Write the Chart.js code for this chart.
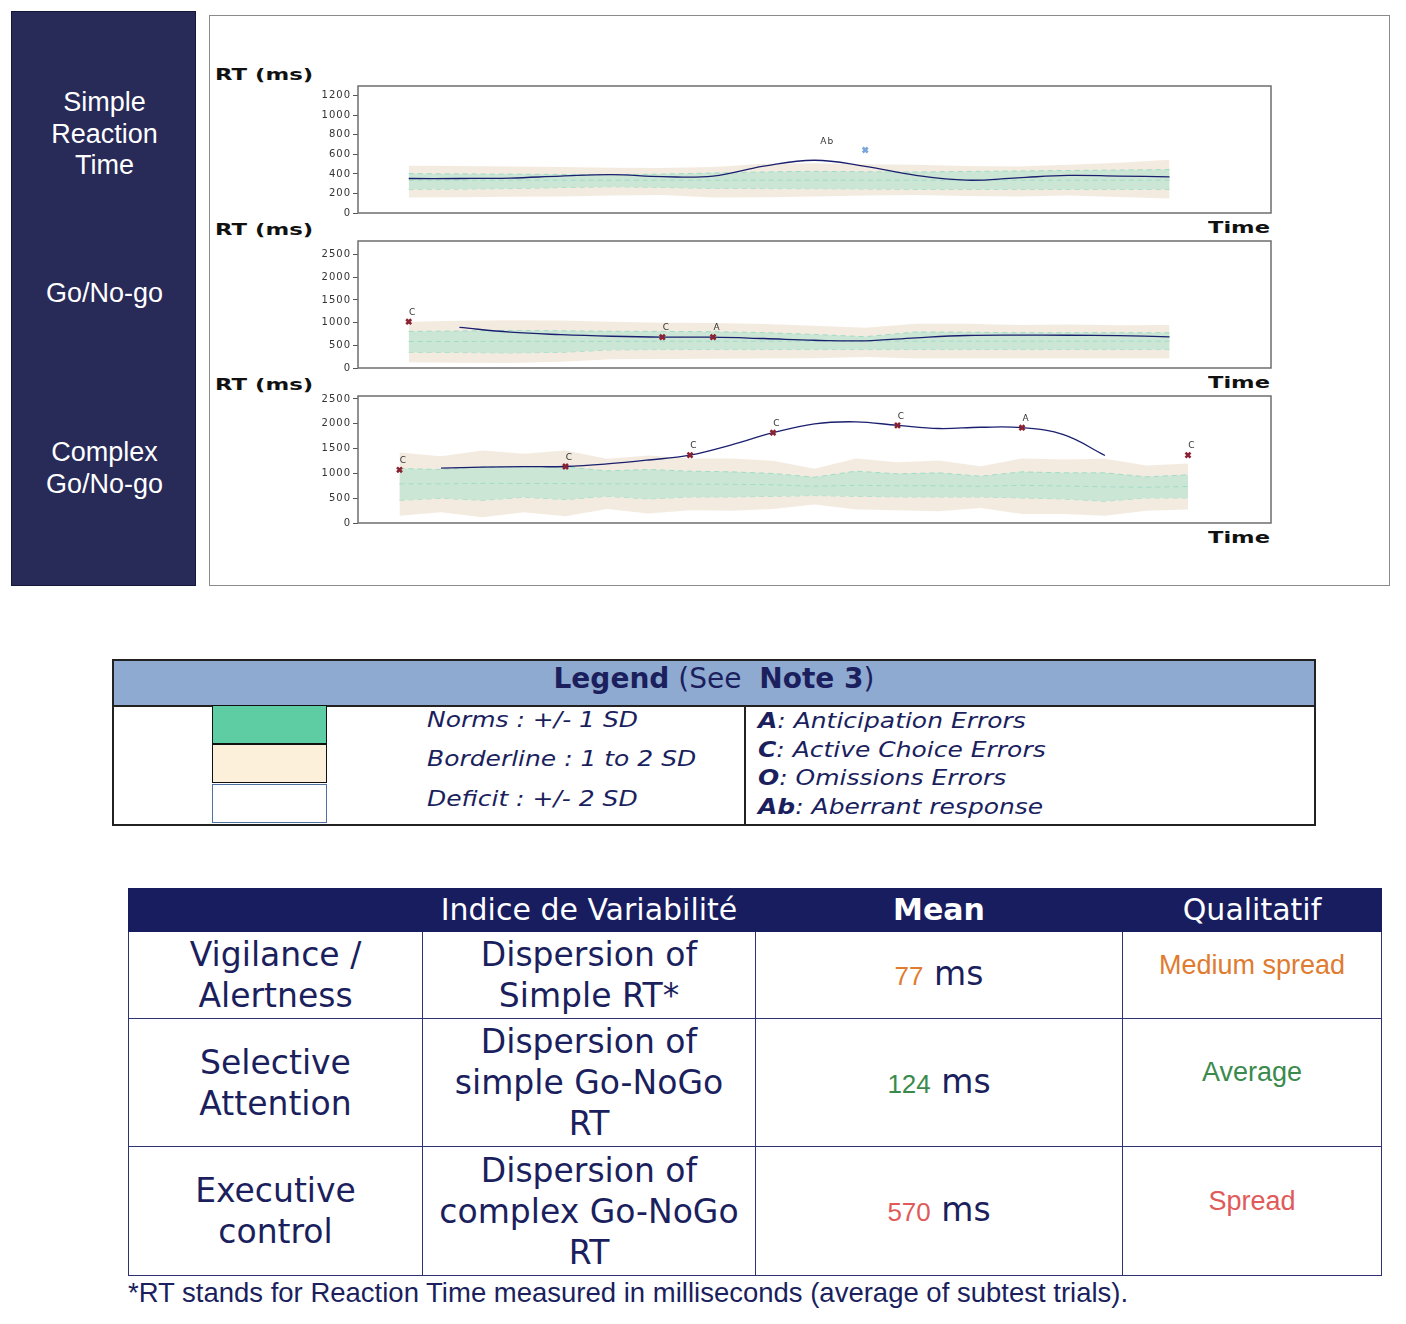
<!DOCTYPE html>
<html lang="en">
<head>
<meta charset="UTF-8"/>
<title>Reaction Time Profile</title>
<script src="https://cdn.jsdelivr.net/npm/chart.js"></script>
<style>
    body { margin: 0; width: 1406px; height: 1324px; position: relative; background: #fff; font-family: 'DejaVu Sans', sans-serif; color: #1b1f5e; overflow: hidden; }
    .side { position: absolute; left: 11px; top: 11px; width: 183px; height: 573px; background: #282a58; border: 1px solid #15173a; }
    .side div { position: absolute; left: 0; width: 185px; text-align: center; color: #fff; font-family: 'Liberation Sans', Arial, sans-serif; font-size: 27px; line-height: 31.5px; }
    .panel { position: absolute; left: 209px; top: 15px; width: 1179px; height: 569px; border: 1px solid #8a8a8a; }
    canvas { position: absolute; left: 300px; }
    .rt, .time { position: absolute; font-weight: bold; color: #111; transform-origin: left center; white-space: nowrap; line-height: 16px; }
    .rt { font-size: 15px; transform: scaleX(1.52); left: 215px; }
    .time { font-size: 16px; transform: scaleX(1.41); left: 1208px; }

    .legend { position: absolute; left: 112px; top: 659px; width: 1200px; height: 163px; border: 2px solid #222; }
    .lhead { position: absolute; left: 0; top: 0; width: 1200px; height: 44px; background: #8faad0; border-bottom: 2px solid #222; text-align: center; font-size: 28px; line-height: 36px; }
    .ldiv { position: absolute; left: 630px; top: 46px; width: 2px; height: 117px; background: #222; }
    .sw { position: absolute; left: 98px; width: 113px; }
    .ltxt { position: absolute; font-style: italic; font-size: 22px; white-space: nowrap; transform-origin: left center; transform: scaleX(1.135); }
    .codes { position: absolute; left: 644px; top: 46px; font-style: italic; font-size: 22px; line-height: 28.5px; white-space: nowrap; transform-origin: left top; transform: scaleX(1.135); }

    table { position: absolute; left: 128px; top: 888px; border-collapse: collapse; table-layout: fixed; width: 1253px; }
    th { background: #181d60; color: #fff; font-weight: normal; font-size: 30px; height: 42px; padding: 0; line-height: 42px; border: 1.5px solid #181d60; }
    td { border: 1.5px solid #2e3272; text-align: center; vertical-align: middle; font-size: 33px; line-height: 41px; padding: 0; }
    .num { font-family: 'Liberation Sans', Arial, sans-serif; font-size: 26px; }
    .qual { font-family: 'Liberation Sans', Arial, sans-serif; font-size: 27px; padding-bottom: 20px; }
    .foot { position: absolute; left: 128px; top: 1277px; font-family: 'Liberation Sans', Arial, sans-serif; font-size: 27.5px; white-space: nowrap; }
</style>
</head>
<body>
    <div class="side">
        <div style="top:75px">Simple<br>Reaction<br>Time</div>
        <div style="top:266px">Go/No-go</div>
        <div style="top:425px">Complex<br>Go/No-go</div>
    </div>
    <div class="panel"></div>

    <div class="rt" style="top:67px">RT (ms)</div>
    <div class="time" style="top:220px">Time</div>
    <div class="rt" style="top:222px">RT (ms)</div>
    <div class="time" style="top:375px">Time</div>
    <div class="rt" style="top:377px">RT (ms)</div>
    <div class="time" style="top:530px">Time</div>

    <canvas id="srtChart" width="980" height="147" style="top:76px"></canvas>
    <canvas id="gngChart" width="980" height="147" style="top:231px"></canvas>
    <canvas id="cgnChart" width="980" height="147" style="top:386px"></canvas>

    <div class="legend">
        <div class="lhead"><b>Legend</b> (See&nbsp; <b>Note 3</b>)</div>
        <div class="sw" style="top:44px;height:37px;background:#5ecda3;border:1.5px solid #111"></div>
        <div class="sw" style="top:83px;height:37px;background:#fcf0db;border:1.5px solid #111"></div>
        <div class="sw" style="top:123px;height:37px;background:#fff;border:1.5px solid #5070a0"></div>
        <div class="ltxt" style="left:313px;top:46px">Norms : +/- 1 SD</div>
        <div class="ltxt" style="left:313px;top:85px">Borderline : 1 to 2 SD</div>
        <div class="ltxt" style="left:313px;top:125px">Deficit : +/- 2 SD</div>
        <div class="ldiv"></div>
        <div class="codes">
            <b>A</b>: Anticipation Errors<br>
            <b>C</b>: Active Choice Errors<br>
            <b>O</b>: Omissions Errors<br>
            <b>Ab</b>: Aberrant response
        </div>
    </div>

    <table>
        <colgroup><col style="width:294px"><col style="width:333px"><col style="width:367px"><col style="width:259px"></colgroup>
        <tr><th></th><th>Indice de Variabilité</th><th style="font-weight:bold">Mean</th><th>Qualitatif</th></tr>
        <tr style="height:87px">
            <td>Vigilance /<br>Alertness</td>
            <td>Dispersion of<br>Simple RT*</td>
            <td><span class="num" style="color:#e07b30">77</span> ms</td>
            <td class="qual" style="color:#e07b30">Medium spread</td>
        </tr>
        <tr style="height:128px">
            <td>Selective<br>Attention</td>
            <td>Dispersion of<br>simple Go-NoGo<br>RT</td>
            <td><span class="num" style="color:#3a8a4e">124</span> ms</td>
            <td class="qual" style="color:#3a8a4e">Average</td>
        </tr>
        <tr style="height:129px">
            <td>Executive<br>control</td>
            <td>Dispersion of<br>complex Go-NoGo<br>RT</td>
            <td><span class="num" style="color:#e05a5a">570</span> ms</td>
            <td class="qual" style="color:#e05a5a">Spread</td>
        </tr>
    </table>
    <div class="foot">*RT stands for Reaction Time measured in milliseconds (average of subtest trials).</div>

<script>
    // Simple reaction time (16 trials)
    const srtTicks = [0, 200, 400, 600, 800, 1000, 1200];
    const srtLine = [353, 353, 358, 378, 392, 372, 378, 480, 540, 477, 385, 336, 360, 385, 378, 370];
    const srtHi2  = [484, 480, 475, 470, 462, 460, 470, 504, 510, 500, 494, 480, 477, 495, 515, 544];
    const srtHi1  = [403, 400, 398, 395, 393, 398, 410, 420, 427, 422, 420, 425, 430, 435, 440, 444];
    const srtMid  = [336, 336, 336, 336, 336, 336, 336, 336, 336, 336, 336, 336, 336, 336, 336, 336];
    const srtLo1  = [242, 245, 250, 260, 269, 262, 252, 250, 249, 246, 242, 242, 242, 242, 242, 242];
    const srtLo2  = [158, 162, 166, 170, 180, 185, 158, 162, 168, 180, 185, 175, 168, 180, 165, 148];
    const srtMarkX = [9], srtMarkY = [645], srtMarkTxt = ['Ab'];
    const srtTxtX = [8.25], srtTxtY = [732];

    // Go/No-go (16 trials)
    const gngTicks = [0, 500, 1000, 1500, 2000, 2500];
    const gngLine = [null, 895, 790, 735, 700, 681, 681, 650, 612, 600, 665, 716, 725, 722, 712, 688];
    const gngHi2  = [1021, 1040, 1051, 1045, 1020, 999, 990, 970, 930, 890, 975, 975, 950, 960, 945, 947];
    const gngHi1  = [807, 815, 829, 820, 810, 807, 800, 780, 740, 690, 795, 790, 777, 777, 777, 777];
    const gngMid  = [585, 585, 588, 588, 588, 590, 590, 590, 592, 592, 592, 592, 592, 592, 592, 592];
    const gngLo1  = [348, 340, 333, 345, 400, 407, 407, 407, 407, 407, 407, 407, 407, 407, 407, 407];
    const gngLo2  = [126, 118, 111, 140, 195, 200, 205, 210, 215, 240, 210, 207, 207, 207, 207, 207];
    const gngMarkX = [0, 5, 6], gngMarkY = [1021, 681, 681], gngMarkTxt = ['C', 'C', 'A'];

    // Complex Go/No-go (20 trials)
    const cgnTicks = [0, 500, 1000, 1500, 2000, 2500];
    const cgnLine = [null, 1105, 1125, 1135, 1139, 1190, 1270, 1368, 1575, 1820, 2000, 2040, 1968, 1905, 1930, 1921, 1780, 1361, null, null];
    const cgnHi2  = [1422, 1348, 1463, 1395, 1463, 1294, 1361, 1301, 1301, 1254, 1092, 1301, 1227, 1260, 1146, 1301, 1281, 1294, 1159, 1200];
    const cgnHi1  = [1099, 1078, 1132, 1132, 1132, 1051, 1078, 1045, 1031, 998, 923, 1045, 991, 1011, 944, 1031, 1011, 1011, 930, 971];
    const cgnMid  = [789, 789, 800, 795, 795, 789, 789, 785, 780, 770, 740, 760, 750, 750, 740, 760, 745, 730, 720, 735];
    const cgnLo1  = [458, 499, 458, 519, 472, 539, 485, 526, 526, 539, 553, 539, 526, 526, 526, 506, 485, 438, 506, 506];
    const cgnLo2  = [148, 216, 115, 216, 135, 283, 189, 256, 249, 283, 371, 270, 256, 236, 303, 182, 182, 148, 249, 270];
    const cgnMarkX = [0, 4, 7, 9, 12, 15, 19], cgnMarkY = [1072, 1139, 1368, 1820, 1968, 1921, 1368];
    const cgnMarkTxt = ['C', 'C', 'C', 'C', 'C', 'A', 'C'];

    const pts = arr => arr.map((v, i) => ({ x: i, y: v }));

    // frame around plot + marker letters
    const framePlugin = {
        id: 'frame',
        beforeDraw(chart) { chart.ctx.letterSpacing = '1px'; },
        afterDraw(chart) {
            const { ctx, chartArea: a } = chart;
            ctx.save();
            ctx.strokeStyle = '#6e6e6e';
            ctx.lineWidth = 1.5;
            ctx.strokeRect(a.left, a.top, a.right - a.left, a.bottom - a.top);
            const o = chart.options.plugins.frame;
            ctx.fillStyle = '#333';
            ctx.font = '9px "DejaVu Sans"';
            ctx.textAlign = 'center';
            ctx.textBaseline = 'middle';
            const xs = chart.scales.x, ys = chart.scales.y;
            o.txt.forEach((t, i) => {
                if (o.txtX) {
                    ctx.fillText(t, xs.getPixelForValue(o.txtX[i]), ys.getPixelForValue(o.txtY[i]));
                } else {
                    ctx.fillText(t, xs.getPixelForValue(o.markX[i]) + 4, ys.getPixelForValue(o.markY[i]) - 9);
                }
            });
            ctx.restore();
        }
    };

    function makeChart(id, d) {
        const band = 'rgba(242, 234, 222, 0.95)';
        const norm = 'rgba(200, 230, 212, 0.9)';
        const edge = '#9ddcc6';
        new Chart(document.getElementById(id), {
            type: 'line',
            data: {
                datasets: [
                    { data: d.mx.map((x, i) => ({ x: x, y: d.my[i] })), showLine: false, pointStyle: 'crossRot',
                      pointRadius: 3.5, pointBorderWidth: 2.6, borderColor: d.markColor, backgroundColor: d.markColor, order: 0 },
                    { data: pts(d.line), borderColor: '#1a1f6e', borderWidth: 1.3, tension: 0.4, pointRadius: 0, spanGaps: false, order: 1 },
                    { data: pts(d.mid), borderColor: edge, borderWidth: 1, borderDash: [5, 4], pointRadius: 0, order: 2 },
                    { data: pts(d.lo1), borderColor: edge, borderWidth: 1, borderDash: [5, 4], pointRadius: 0, order: 4 },
                    { data: pts(d.hi1), borderColor: edge, borderWidth: 1, borderDash: [5, 4], pointRadius: 0, fill: '-1', backgroundColor: norm, order: 3 },
                    { data: pts(d.lo2), borderWidth: 0, pointRadius: 0, order: 6 },
                    { data: pts(d.hi2), borderWidth: 0, pointRadius: 0, fill: '-1', backgroundColor: band, order: 5 }
                ]
            },
            options: {
                responsive: false,
                animation: false,
                devicePixelRatio: 1,
                layout: { padding: { left: 0, right: 9, top: 10, bottom: 10 } },
                plugins: {
                    legend: { display: false },
                    tooltip: { enabled: false },
                    frame: { markX: d.mx, markY: d.my, txt: d.txt, txtX: d.txtX, txtY: d.txtY }
                },
                scales: {
                    x: { type: 'linear', display: false, min: -1, max: d.xmax },
                    y: {
                        min: 0, max: d.ymax,
                        afterFit: s => { s.width = 58; },
                        afterBuildTicks: s => { s.ticks = d.ticks.map(v => ({ value: v })); },
                        ticks: { autoSkip: false, padding: 2, color: '#333', font: { family: 'DejaVu Sans', size: 10 },
                                 callback: v => String(v) },
                        grid: { drawOnChartArea: false, drawTicks: true, tickLength: 5, color: '#555' },
                        border: { display: false }
                    }
                }
            },
            plugins: [framePlugin]
        });
    }

    makeChart('srtChart', { line: srtLine, hi2: srtHi2, hi1: srtHi1, mid: srtMid, lo1: srtLo1, lo2: srtLo2,
        mx: srtMarkX, my: srtMarkY, txt: srtMarkTxt, txtX: srtTxtX, txtY: srtTxtY, markColor: '#7aa7d9',
        ticks: srtTicks, xmax: 17, ymax: 1300 });
    makeChart('gngChart', { line: gngLine, hi2: gngHi2, hi1: gngHi1, mid: gngMid, lo1: gngLo1, lo2: gngLo2,
        mx: gngMarkX, my: gngMarkY, txt: gngMarkTxt, markColor: '#8b2232',
        ticks: gngTicks, xmax: 17, ymax: 2800 });
    makeChart('cgnChart', { line: cgnLine, hi2: cgnHi2, hi1: cgnHi1, mid: cgnMid, lo1: cgnLo1, lo2: cgnLo2,
        mx: cgnMarkX, my: cgnMarkY, txt: cgnMarkTxt, markColor: '#8b2232',
        ticks: cgnTicks, xmax: 21, ymax: 2560 });
</script>
</body>
</html>
